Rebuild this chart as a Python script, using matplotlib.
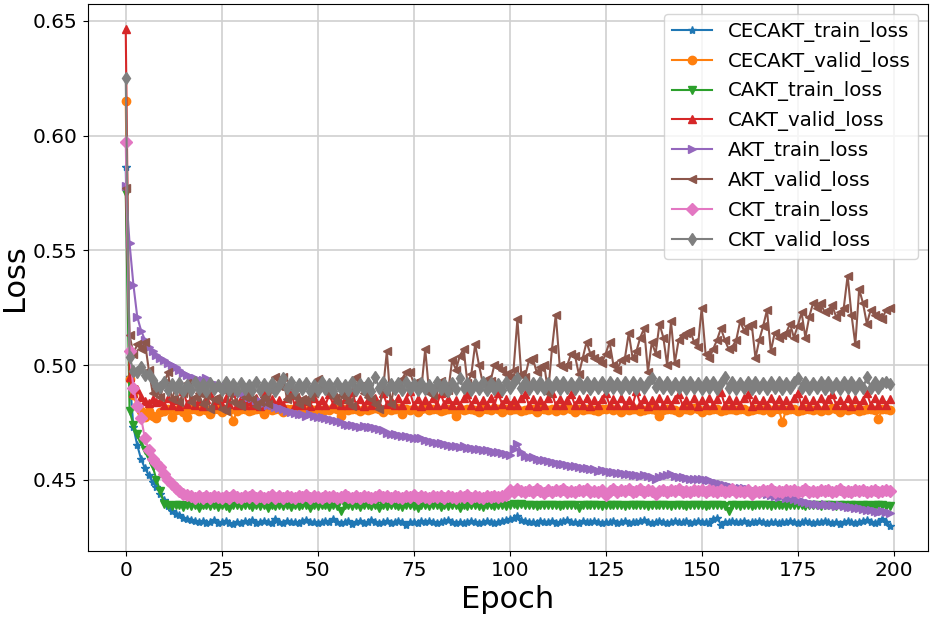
import matplotlib
matplotlib.use("Agg")
import matplotlib.pyplot as plt

epochs = list(range(200))

cecakt_train = [
    0.5865, 0.495, 0.473, 0.465, 0.459, 0.455, 0.452, 0.449, 0.447, 0.444,
    0.441, 0.4385, 0.4365, 0.435, 0.4345, 0.4335, 0.433, 0.4325, 0.432, 0.4315,
    0.432, 0.4312, 0.4318, 0.4325, 0.431, 0.4315, 0.4322, 0.4312, 0.4308, 0.4318,
    0.4313, 0.432, 0.4315, 0.4325, 0.4312, 0.4318, 0.4322, 0.4315, 0.431, 0.4328,
    0.4318, 0.4312, 0.4322, 0.4315, 0.4318, 0.4312, 0.432, 0.4325, 0.4315, 0.4318,
    0.431, 0.4318, 0.4322, 0.4315, 0.433, 0.4318, 0.4312, 0.4315, 0.4322, 0.4308,
    0.4315, 0.432, 0.4312, 0.4318, 0.4325, 0.4315, 0.4312, 0.4318, 0.432, 0.4312,
    0.4318, 0.4322, 0.4315, 0.4305, 0.4315, 0.4318, 0.4312, 0.432, 0.4315, 0.4322,
    0.4318, 0.4312, 0.4315, 0.432, 0.4325, 0.4318, 0.4312, 0.4315, 0.431, 0.4318,
    0.4322, 0.4315, 0.4312, 0.4318, 0.432, 0.4315, 0.4312, 0.4318, 0.432, 0.4325,
    0.433, 0.4335, 0.434, 0.4325, 0.432, 0.4315, 0.4318, 0.4312, 0.432, 0.4315,
    0.4318, 0.4322, 0.4312, 0.4315, 0.432, 0.4325, 0.4318, 0.4315, 0.4312, 0.432,
    0.4315, 0.4318, 0.4322, 0.4315, 0.431, 0.4318, 0.4315, 0.4322, 0.4312, 0.4318,
    0.432, 0.4312, 0.4318, 0.4315, 0.4322, 0.4325, 0.4318, 0.4312, 0.4315, 0.432,
    0.4318, 0.4312, 0.4315, 0.4322, 0.4318, 0.4315, 0.432, 0.4312, 0.4318, 0.4322,
    0.4315, 0.4318, 0.4312, 0.433, 0.4335, 0.4305, 0.4315, 0.4318, 0.4322, 0.4315,
    0.4318, 0.4322, 0.4312, 0.4315, 0.4318, 0.432, 0.4315, 0.4312, 0.4318, 0.4315,
    0.431, 0.4318, 0.4315, 0.4322, 0.4318, 0.4312, 0.4315, 0.432, 0.4318, 0.4312,
    0.4315, 0.4318, 0.4322, 0.4315, 0.4312, 0.4318, 0.4308, 0.4315, 0.432, 0.4315,
    0.4312, 0.4318, 0.4322, 0.4325, 0.4318, 0.4312, 0.4315, 0.433, 0.4315, 0.4298,
]

cecakt_valid = [
    0.615, 0.494, 0.487, 0.482, 0.480, 0.4775, 0.480, 0.478, 0.4768, 0.4795,
    0.480, 0.481, 0.4775, 0.4805, 0.481, 0.4795, 0.4775, 0.4808, 0.481, 0.4798,
    0.481, 0.4805, 0.4785, 0.481, 0.4808, 0.4795, 0.481, 0.4805, 0.4758, 0.480,
    0.4808, 0.481, 0.4798, 0.4805, 0.481, 0.4808, 0.4785, 0.481, 0.4805, 0.4808,
    0.481, 0.4795, 0.4808, 0.481, 0.4805, 0.4812, 0.4808, 0.4798, 0.481, 0.4805,
    0.4808, 0.4795, 0.481, 0.4805, 0.4812, 0.4808, 0.478, 0.481, 0.4805, 0.4808,
    0.481, 0.4798, 0.4808, 0.4805, 0.481, 0.4812, 0.4808, 0.4795, 0.481, 0.4805,
    0.4808, 0.4812, 0.4785, 0.481, 0.4805, 0.4808, 0.4795, 0.481, 0.4812, 0.4805,
    0.4808, 0.481, 0.4798, 0.4805, 0.481, 0.4808, 0.4778, 0.481, 0.4805, 0.4808,
    0.481, 0.4805, 0.4795, 0.4808, 0.481, 0.4805, 0.4812, 0.4808, 0.4795, 0.481,
    0.4805, 0.4808, 0.481, 0.4798, 0.4805, 0.4808, 0.481, 0.4795, 0.4808, 0.481,
    0.4805, 0.4808, 0.4798, 0.481, 0.4805, 0.4812, 0.4808, 0.4795, 0.481, 0.4805,
    0.4808, 0.481, 0.4805, 0.4798, 0.4808, 0.481, 0.4812, 0.4805, 0.4808, 0.4795,
    0.481, 0.4805, 0.4808, 0.481, 0.4798, 0.4805, 0.4808, 0.481, 0.4805, 0.4778,
    0.4802, 0.4808, 0.481, 0.4805, 0.4795, 0.4808, 0.481, 0.4805, 0.4812, 0.4808,
    0.4795, 0.481, 0.4805, 0.4808, 0.481, 0.4798, 0.4805, 0.4808, 0.481, 0.4805,
    0.4808, 0.481, 0.4798, 0.4805, 0.4808, 0.481, 0.4805, 0.4812, 0.4795, 0.4808,
    0.481, 0.4752, 0.4805, 0.4808, 0.481, 0.4798, 0.4805, 0.4808, 0.481, 0.4805,
    0.4808, 0.4798, 0.481, 0.4805, 0.4812, 0.4808, 0.4795, 0.481, 0.4805, 0.4808,
    0.481, 0.4798, 0.4805, 0.4808, 0.481, 0.4805, 0.4765, 0.4808, 0.481, 0.4802,
]

cakt_train = [
    0.575, 0.480, 0.474, 0.470, 0.467, 0.463, 0.460, 0.456, 0.450, 0.445,
    0.4395, 0.439, 0.4385, 0.4388, 0.439, 0.4382, 0.4388, 0.4385, 0.439, 0.4375,
    0.4388, 0.439, 0.4385, 0.4388, 0.4382, 0.439, 0.4386, 0.4376, 0.4388, 0.439,
    0.4385, 0.4388, 0.439, 0.4382, 0.4388, 0.4385, 0.439, 0.4375, 0.4388, 0.4385,
    0.439, 0.4386, 0.4388, 0.4383, 0.439, 0.4385, 0.4388, 0.439, 0.4378, 0.4388,
    0.4385, 0.439, 0.4388, 0.4382, 0.4388, 0.4385, 0.4362, 0.4388, 0.439, 0.4385,
    0.4388, 0.4383, 0.439, 0.4388, 0.4385, 0.439, 0.4378, 0.4388, 0.4385, 0.439,
    0.4388, 0.4385, 0.4382, 0.439, 0.4388, 0.4385, 0.4376, 0.4388, 0.439, 0.4385,
    0.4388, 0.439, 0.4383, 0.4388, 0.4385, 0.439, 0.4388, 0.4378, 0.4388, 0.4385,
    0.439, 0.4388, 0.4385, 0.4382, 0.439, 0.4388, 0.4385, 0.439, 0.4388, 0.4385,
    0.4392, 0.4395, 0.439, 0.4393, 0.4388, 0.4392, 0.439, 0.4385, 0.4392, 0.4388,
    0.439, 0.4392, 0.4388, 0.4385, 0.439, 0.4392, 0.4388, 0.439, 0.4376, 0.439,
    0.4392, 0.4388, 0.439, 0.4392, 0.4385, 0.4388, 0.439, 0.4392, 0.4388, 0.439,
    0.4385, 0.4392, 0.439, 0.4388, 0.4392, 0.439, 0.4385, 0.4388, 0.439, 0.4392,
    0.4388, 0.439, 0.4385, 0.4392, 0.439, 0.4388, 0.4385, 0.439, 0.4392, 0.4388,
    0.439, 0.4385, 0.4388, 0.439, 0.4392, 0.4388, 0.4385, 0.4365, 0.439, 0.4388,
    0.4385, 0.439, 0.4388, 0.4385, 0.439, 0.4388, 0.4392, 0.439, 0.4385, 0.4388,
    0.439, 0.4388, 0.4385, 0.439, 0.4392, 0.4388, 0.439, 0.4385, 0.4388, 0.439,
    0.4388, 0.4385, 0.439, 0.4392, 0.4388, 0.4385, 0.439, 0.4388, 0.4385, 0.439,
    0.4388, 0.4385, 0.439, 0.4388, 0.4385, 0.439, 0.4392, 0.4388, 0.4385, 0.4385,
]

cakt_valid = [
    0.6465, 0.495, 0.488, 0.4895, 0.486, 0.4845, 0.4835, 0.485, 0.4838, 0.4845,
    0.4828, 0.4855, 0.4825, 0.4848, 0.4822, 0.4885, 0.483, 0.4852, 0.4826, 0.4845,
    0.4822, 0.485, 0.4875, 0.4828, 0.4848, 0.4825, 0.4855, 0.4832, 0.4888, 0.4826,
    0.485, 0.4824, 0.4845, 0.4828, 0.4858, 0.4822, 0.4878, 0.483, 0.4852, 0.4825,
    0.4848, 0.4826, 0.4855, 0.4885, 0.4824, 0.485, 0.4828, 0.4845, 0.4822, 0.4858,
    0.4828, 0.4848, 0.4825, 0.4872, 0.483, 0.4855, 0.4824, 0.485, 0.4828, 0.4882,
    0.4826, 0.4852, 0.4822, 0.4848, 0.4828, 0.4855, 0.4825, 0.4878, 0.483, 0.4848,
    0.4824, 0.4855, 0.4828, 0.485, 0.4885, 0.4826, 0.4852, 0.4822, 0.4848, 0.4828,
    0.4855, 0.4825, 0.4876, 0.483, 0.4852, 0.4824, 0.4848, 0.4828, 0.4855, 0.4872,
    0.4826, 0.485, 0.4822, 0.4848, 0.4828, 0.4858, 0.4825, 0.4878, 0.483, 0.4852,
    0.4824, 0.4848, 0.4828, 0.4855, 0.4875, 0.4826, 0.4852, 0.4822, 0.4848, 0.4828,
    0.4855, 0.4878, 0.4825, 0.485, 0.4828, 0.4848, 0.4872, 0.4824, 0.4852, 0.4826,
    0.4855, 0.4822, 0.4848, 0.4828, 0.485, 0.4876, 0.4825, 0.4852, 0.4828, 0.4855,
    0.4824, 0.4848, 0.4826, 0.4885, 0.483, 0.4852, 0.4822, 0.4848, 0.4828, 0.4855,
    0.4825, 0.485, 0.4828, 0.4852, 0.4875, 0.4824, 0.4848, 0.4826, 0.4855, 0.4822,
    0.4848, 0.4828, 0.4855, 0.4825, 0.485, 0.4882, 0.4826, 0.4852, 0.4824, 0.4848,
    0.4828, 0.4855, 0.4875, 0.4822, 0.485, 0.4828, 0.4848, 0.4826, 0.4855, 0.4824,
    0.4852, 0.4828, 0.4848, 0.4825, 0.4855, 0.4878, 0.4826, 0.485, 0.4822, 0.4848,
    0.4828, 0.4855, 0.4824, 0.4852, 0.4875, 0.4826, 0.4848, 0.4828, 0.4855, 0.4822,
    0.485, 0.4826, 0.4848, 0.4878, 0.4828, 0.4855, 0.4824, 0.4852, 0.4826, 0.485,
]

akt_train = [
    0.578, 0.553, 0.535, 0.521, 0.515, 0.511, 0.508, 0.506, 0.5045, 0.503,
    0.502, 0.501, 0.500, 0.499, 0.498, 0.4965, 0.4955, 0.495, 0.4945, 0.4935,
    0.4935, 0.4945, 0.4925, 0.4918, 0.4912, 0.4908, 0.4903, 0.490, 0.4892, 0.4885,
    0.488, 0.4872, 0.4862, 0.4855, 0.4848, 0.4842, 0.4835, 0.4828, 0.4825, 0.4818,
    0.4812, 0.4808, 0.480, 0.4795, 0.4792, 0.4788, 0.4785, 0.478, 0.4785, 0.4778,
    0.4775, 0.4772, 0.4768, 0.4765, 0.4762, 0.4755, 0.475, 0.4745, 0.474, 0.4738,
    0.4735, 0.4732, 0.4734, 0.473, 0.4728, 0.4725, 0.4722, 0.4718, 0.4705, 0.470,
    0.4698, 0.4695, 0.4692, 0.469, 0.4687, 0.4684, 0.468, 0.4682, 0.4675, 0.467,
    0.4665, 0.4662, 0.466, 0.4655, 0.4652, 0.4648, 0.4645, 0.4642, 0.4645, 0.464,
    0.4638, 0.4635, 0.4632, 0.463, 0.4628, 0.4625, 0.462, 0.4622, 0.4615, 0.4613,
    0.461, 0.4635, 0.4657, 0.462, 0.4605, 0.460, 0.4598, 0.4592, 0.4588, 0.4584,
    0.458, 0.4578, 0.4575, 0.457, 0.4568, 0.4565, 0.456, 0.4562, 0.4556, 0.4552,
    0.455, 0.4548, 0.4545, 0.454, 0.4542, 0.4538, 0.4535, 0.4532, 0.453, 0.4528,
    0.4527, 0.4525, 0.4522, 0.452, 0.4518, 0.4519, 0.4515, 0.4512, 0.4504, 0.451,
    0.4515, 0.452, 0.4526, 0.4518, 0.4512, 0.451, 0.4508, 0.4505, 0.4502, 0.4505,
    0.4502, 0.450, 0.4497, 0.449, 0.4485, 0.448, 0.4478, 0.4472, 0.4468, 0.4465,
    0.4465, 0.4462, 0.446, 0.4455, 0.445, 0.4448, 0.4442, 0.444, 0.4435, 0.443,
    0.4426, 0.4428, 0.4422, 0.442, 0.4415, 0.4412, 0.4408, 0.4405, 0.440, 0.4396,
    0.4395, 0.4392, 0.4394, 0.439, 0.4388, 0.4386, 0.4388, 0.4385, 0.4383, 0.438,
    0.4378, 0.4375, 0.4372, 0.437, 0.4368, 0.4365, 0.436, 0.4362, 0.4358, 0.4355,
]

akt_valid = [
    0.577, 0.513, 0.505, 0.509, 0.507, 0.510, 0.498, 0.488, 0.490, 0.486,
    0.492, 0.497, 0.485, 0.490, 0.484, 0.488, 0.492, 0.484, 0.486, 0.488,
    0.483, 0.487, 0.481, 0.485, 0.486, 0.481, 0.480, 0.488, 0.484, 0.483,
    0.482, 0.486, 0.488, 0.485, 0.482, 0.484, 0.486, 0.483, 0.489, 0.495,
    0.491, 0.495, 0.485, 0.487, 0.486, 0.483, 0.485, 0.484, 0.486, 0.488,
    0.494, 0.490, 0.491, 0.488, 0.486, 0.484, 0.487, 0.486, 0.484, 0.482,
    0.495, 0.491, 0.488, 0.486, 0.485, 0.483, 0.481, 0.489, 0.506, 0.483,
    0.491, 0.490, 0.494, 0.497, 0.497, 0.492, 0.493, 0.490, 0.507, 0.488,
    0.487, 0.491, 0.493, 0.488, 0.489, 0.502, 0.498, 0.504, 0.507, 0.492,
    0.496, 0.509, 0.500, 0.492, 0.494, 0.493, 0.500, 0.499, 0.498, 0.496,
    0.495, 0.498, 0.520, 0.496, 0.495, 0.502, 0.503, 0.497, 0.499, 0.500,
    0.488, 0.507, 0.522, 0.500, 0.499, 0.500, 0.505, 0.504, 0.496, 0.503,
    0.510, 0.505, 0.503, 0.502, 0.501, 0.505, 0.510, 0.500, 0.498, 0.502,
    0.503, 0.514, 0.503, 0.506, 0.512, 0.516, 0.497, 0.510, 0.505, 0.518,
    0.512, 0.500, 0.519, 0.501, 0.511, 0.513, 0.514, 0.515, 0.510, 0.508,
    0.525, 0.505, 0.503, 0.507, 0.511, 0.516, 0.511, 0.507, 0.508, 0.511,
    0.519, 0.515, 0.517, 0.518, 0.503, 0.511, 0.517, 0.524, 0.506, 0.514,
    0.512, 0.513, 0.514, 0.518, 0.512, 0.517, 0.523, 0.512, 0.521, 0.527,
    0.525, 0.527, 0.523, 0.524, 0.526, 0.521, 0.523, 0.525, 0.539, 0.522,
    0.509, 0.533, 0.527, 0.518, 0.524, 0.522, 0.521, 0.520, 0.524, 0.525,
]

ckt_train = [
    0.597, 0.506, 0.490, 0.482, 0.477, 0.468, 0.463, 0.459, 0.4575, 0.4555,
    0.4525, 0.450, 0.448, 0.4465, 0.445, 0.4438, 0.4432, 0.4428, 0.4422, 0.4428,
    0.442, 0.4428, 0.4422, 0.443, 0.4425, 0.442, 0.4428, 0.4422, 0.4432, 0.4425,
    0.442, 0.4428, 0.4425, 0.4432, 0.4422, 0.4428, 0.442, 0.4426, 0.4433, 0.4422,
    0.4428, 0.4422, 0.443, 0.4425, 0.442, 0.4428, 0.4424, 0.4432, 0.4422, 0.4428,
    0.4425, 0.442, 0.4428, 0.4424, 0.443, 0.4422, 0.4426, 0.4432, 0.4424, 0.442,
    0.4428, 0.4422, 0.443, 0.4425, 0.442, 0.4426, 0.4432, 0.4424, 0.4428, 0.4422,
    0.443, 0.4424, 0.442, 0.4428, 0.4426, 0.4433, 0.4422, 0.4428, 0.4425, 0.442,
    0.4428, 0.4424, 0.443, 0.4422, 0.4428, 0.4426, 0.442, 0.4428, 0.4424, 0.4432,
    0.4422, 0.4428, 0.4425, 0.442, 0.4428, 0.4424, 0.443, 0.4425, 0.4428, 0.4432,
    0.4455, 0.4448, 0.4458, 0.445, 0.4445, 0.4455, 0.4448, 0.4458, 0.445, 0.4444,
    0.4455, 0.4448, 0.4456, 0.445, 0.4458, 0.4446, 0.4452, 0.4448, 0.4456, 0.445,
    0.4458, 0.4446, 0.4452, 0.4448, 0.4456, 0.4432, 0.4452, 0.4458, 0.4448, 0.4455,
    0.445, 0.4458, 0.4446, 0.4452, 0.446, 0.4448, 0.4455, 0.445, 0.4438, 0.4452,
    0.4456, 0.4448, 0.4455, 0.445, 0.4458, 0.4446, 0.4452, 0.4448, 0.4456, 0.445,
    0.4455, 0.4448, 0.4456, 0.445, 0.4446, 0.4455, 0.4448, 0.4452, 0.4458, 0.4446,
    0.4452, 0.4448, 0.4456, 0.4436, 0.4452, 0.4448, 0.4455, 0.445, 0.4458, 0.4446,
    0.4452, 0.4448, 0.4456, 0.445, 0.4455, 0.4448, 0.4452, 0.4458, 0.4446, 0.4452,
    0.4448, 0.4456, 0.445, 0.4455, 0.4448, 0.4452, 0.4458, 0.4446, 0.4452, 0.4448,
    0.4456, 0.445, 0.4455, 0.4448, 0.4452, 0.4456, 0.4448, 0.4452, 0.4455, 0.445,
]

ckt_valid = [
    0.625, 0.5035, 0.4975, 0.497, 0.499, 0.4955, 0.496, 0.4935, 0.491, 0.4905,
    0.4925, 0.489, 0.4918, 0.4895, 0.4922, 0.4888, 0.4915, 0.4892, 0.4928, 0.4895,
    0.4918, 0.4888, 0.4922, 0.4895, 0.4915, 0.489, 0.4925, 0.4892, 0.4918, 0.4888,
    0.4922, 0.4895, 0.4915, 0.489, 0.4925, 0.4892, 0.4918, 0.4895, 0.4922, 0.4888,
    0.4915, 0.4945, 0.4898, 0.4925, 0.489, 0.4918, 0.4895, 0.4922, 0.4888, 0.4915,
    0.4892, 0.4925, 0.4895, 0.4918, 0.4888, 0.4922, 0.4895, 0.4915, 0.489, 0.4925,
    0.4892, 0.4918, 0.4895, 0.4922, 0.4888, 0.4948, 0.4898, 0.4925, 0.4892, 0.4918,
    0.4895, 0.4922, 0.489, 0.4925, 0.4895, 0.4918, 0.4892, 0.4922, 0.4895, 0.4915,
    0.489, 0.4925, 0.4895, 0.4918, 0.4888, 0.4922, 0.4895, 0.4942, 0.4898, 0.4922,
    0.4892, 0.4918, 0.4895, 0.4925, 0.489, 0.4922, 0.4895, 0.4918, 0.4892, 0.4925,
    0.4898, 0.4928, 0.4945, 0.4902, 0.4928, 0.4895, 0.4922, 0.4898, 0.4925, 0.4895,
    0.4922, 0.4898, 0.4928, 0.4895, 0.4925, 0.4898, 0.4922, 0.4895, 0.4928, 0.4898,
    0.4925, 0.4895, 0.4922, 0.4898, 0.4928, 0.4895, 0.4925, 0.4898, 0.4922, 0.4895,
    0.4928, 0.4898, 0.4925, 0.4895, 0.4922, 0.4898, 0.4928, 0.4945, 0.4905, 0.4928,
    0.4898, 0.4925, 0.4895, 0.4922, 0.4898, 0.4928, 0.4895, 0.4925, 0.4898, 0.4922,
    0.4895, 0.4928, 0.4898, 0.4925, 0.4895, 0.4922, 0.4948, 0.4898, 0.4925, 0.4895,
    0.4922, 0.4898, 0.4928, 0.4895, 0.4925, 0.4898, 0.4922, 0.4895, 0.4928, 0.4898,
    0.4925, 0.4895, 0.4922, 0.4898, 0.4928, 0.4945, 0.4902, 0.4925, 0.4895, 0.4922,
    0.4898, 0.4928, 0.4895, 0.4925, 0.4898, 0.4922, 0.4895, 0.4928, 0.4898, 0.4925,
    0.4895, 0.4922, 0.4898, 0.4948, 0.4902, 0.4925, 0.4898, 0.4922, 0.4928, 0.4918,
]

series = [
    ("CECAKT_train_loss", cecakt_train, "*", "#1f77b4"),
    ("CECAKT_valid_loss", cecakt_valid, "o", "#ff7f0e"),
    ("CAKT_train_loss", cakt_train, "v", "#2ca02c"),
    ("CAKT_valid_loss", cakt_valid, "^", "#d62728"),
    ("AKT_train_loss", akt_train, ">", "#9467bd"),
    ("AKT_valid_loss", akt_valid, "<", "#8c564b"),
    ("CKT_train_loss", ckt_train, "D", "#e377c2"),
    ("CKT_valid_loss", ckt_valid, "d", "#7f7f7f"),
]

fig = plt.figure(figsize=(9.35, 6.17), dpi=100)
ax = fig.add_axes([0.0936, 0.107, 0.899, 0.8865])
for label, vals, mk, col in series:
    ax.plot(epochs, vals, marker=mk, color=col, label=label,
            markersize=6, linewidth=1.5)

ax.set_xlabel("Epoch", fontsize=22)
ax.set_ylabel("Loss", fontsize=22, labelpad=3)
ax.tick_params(labelsize=14.5)
ax.set_xticks([0, 25, 50, 75, 100, 125, 150, 175, 200])
ax.set_yticks([0.45, 0.50, 0.55, 0.60, 0.65])
ax.grid(True, color="#d0d0d0", linewidth=1.2)
ax.set_axisbelow(True)
ax.legend(loc="upper right", fontsize=14.2)

fig.savefig("out.png", dpi=100)
